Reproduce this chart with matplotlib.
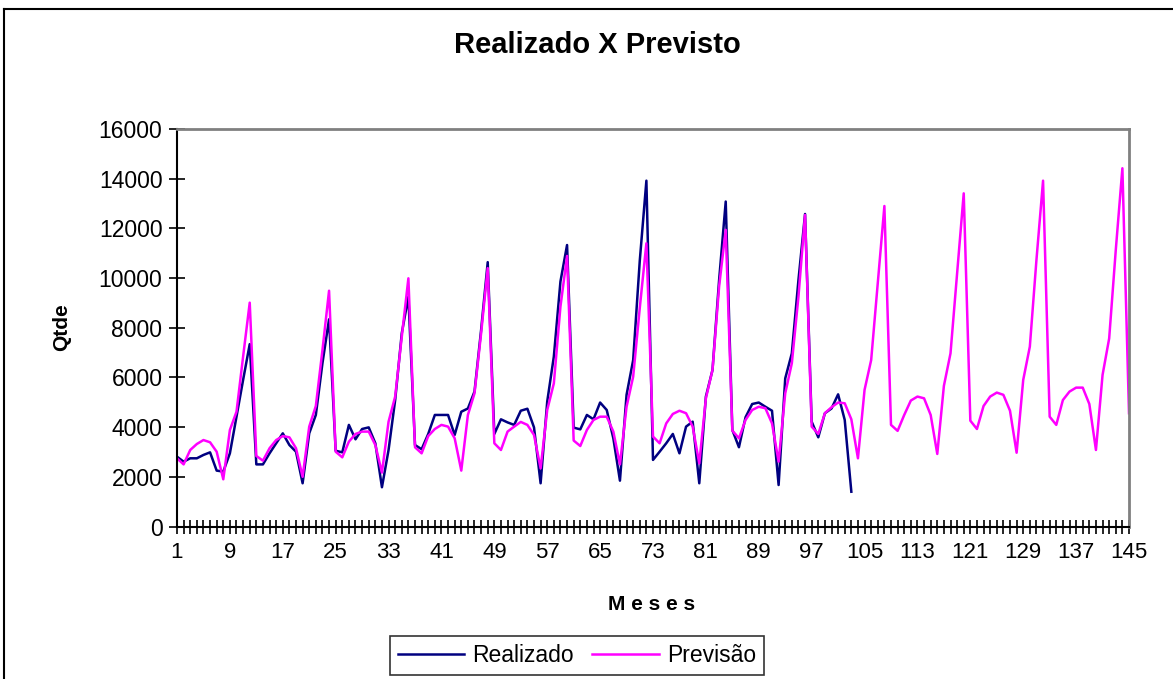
import numpy as np
import matplotlib
matplotlib.use("Agg")
import matplotlib.pyplot as plt
from matplotlib.lines import Line2D

plt.rcParams['font.family'] = ['Liberation Sans', 'DejaVu Sans']

# monthly values
realizado = [2810, 2610, 2745, 2745, 2880, 2985, 2250, 2210, 2945, 4420, 5900, 7340,
             2500, 2500, 2945, 3350, 3750, 3280, 3010, 1740, 3750, 4490, 6570, 8340,
             3050, 2985, 4090, 3510, 3925, 3990, 3350, 1580, 3080, 5090, 7780, 9250,
             3280, 3110, 3725, 4490, 4490, 4490, 3685, 4620, 4750, 5430, 7910, 10640,
             3725, 4315, 4190, 4090, 4660, 4740, 3990, 1740, 5030, 6840, 9860, 11330,
             3980, 3910, 4490, 4315, 4990, 4690, 3550, 1845, 5300, 6700, 10700, 13920,
             2680, 3010, 3350, 3725, 2945, 4020, 4220, 1740, 5230, 6300, 9920, 13080,
             3885, 3190, 4400, 4930, 4990, 4820, 4660, 1670, 5960, 6970, 9920, 12580,
             4220, 3590, 4560, 4750, 5320, 4290, 1400]

previsao = [2745, 2500, 3080, 3320, 3480, 3390, 3010, 1900, 3885, 4620, 6840, 9010,
            2840, 2650, 3150, 3480, 3640, 3590, 3150, 2000, 4020, 4850, 7100, 9490,
            3010, 2785, 3415, 3725, 3820, 3820, 3280, 2170, 4220, 5230, 7640, 9990,
            3190, 2945, 3640, 3925, 4090, 4020, 3550, 2250, 4490, 5360, 7780, 10400,
            3350, 3080, 3820, 4020, 4210, 4090, 3685, 2340, 4690, 5760, 8850, 10890,
            3460, 3240, 3885, 4290, 4420, 4420, 3820, 2500, 4820, 6030, 8800, 11400,
            3620, 3350, 4150, 4530, 4660, 4560, 4020, 2540, 5160, 6300, 9660, 11940,
            3860, 3550, 4290, 4690, 4820, 4760, 4150, 2610, 5360, 6570, 9250, 12540,
            4020, 3725, 4560, 4800, 4990, 4960, 4315, 2745, 5500, 6700, 9790, 12900,
            4090, 3850, 4490, 5070, 5230, 5160, 4490, 2920, 5660, 6970, 10190, 13410,
            4260, 3925, 4850, 5230, 5390, 5300, 4660, 2970, 5900, 7240, 10730, 13920,
            4420, 4090, 5090, 5430, 5590, 5590, 4930, 3080, 6100, 7570, 11130, 14420,
            4560]

meses_real = np.arange(1, len(realizado) + 1)
meses_prev = np.arange(1, len(previsao) + 1)
xlabels = list(range(1, 146, 8))

fig = plt.figure(figsize=(11.73, 6.79), dpi=100)
ax = fig.add_axes([177/1173, 1 - 526.5/679, (1129 - 177)/1173, (526.5 - 129)/679])

ax.plot(meses_real, realizado, color='#000080', lw=1.8, label='Realizado')
ax.plot(meses_prev, previsao, color='#FF00FF', lw=1.8, label='Previsão')

ax.set_xlim(1, 145)
ax.set_ylim(0, 16000)
ax.set_yticks(range(0, 16001, 2000))
ax.set_xticks(meses_prev)
ax.set_xticklabels([str(m) if m in xlabels else '' for m in meses_prev])
ax.tick_params(axis='x', direction='inout', length=10, width=1.2, pad=6, labelsize=16)
ax.tick_params(axis='y', direction='inout', length=11, width=1.2, pad=5, labelsize=16.5)

for s in ['top', 'right']:
    ax.spines[s].set_color('#808080')
    ax.spines[s].set_linewidth(2)
for s in ['left', 'bottom']:
    ax.spines[s].set_color('black')
    ax.spines[s].set_linewidth(1.5)

fig.text(597/1173, 1 - 45/679, 'Realizado X Previsto', ha='center', va='center',
         fontsize=21, fontweight='bold')
fig.text(62/1173, 1 - 327/679, 'Qtde', ha='center', va='center', rotation=90,
         fontsize=15, fontweight='bold')
fig.text(652/1173, 1 - 604/679, 'M e s e s', ha='center', va='center',
         fontsize=15, fontweight='bold')

# outer chart border (only top/left visible in the crop)
fig.add_artist(Line2D([4/1173, 1], [1 - 9/679, 1 - 9/679], color='black', lw=1.5))
fig.add_artist(Line2D([4/1173, 4/1173], [0, 1 - 9/679], color='black', lw=1.5))

leg = fig.legend(loc='upper left', bbox_to_anchor=(390/1173, 1 - 636/679), ncol=2,
                 fontsize=16.5, frameon=True, fancybox=False, edgecolor='black',
                 handlelength=2.9, columnspacing=0.8, handletextpad=0.35,
                 borderpad=0.35, borderaxespad=0)
leg.get_frame().set_linewidth(1.2)

fig.savefig('out.png', dpi=100)
